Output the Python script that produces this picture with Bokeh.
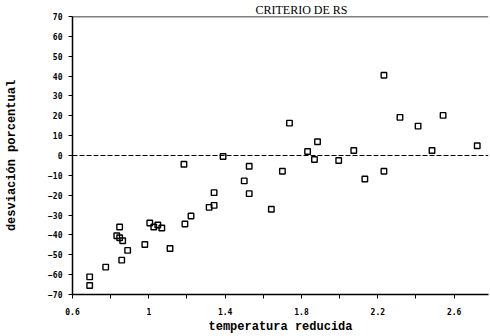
from bokeh.plotting import figure
from bokeh.models import FixedTicker, Span, Range1d
from bokeh.embed import file_html
from bokeh.resources import INLINE

# Data
temperatura_reducida = [0.69, 0.69, 0.774, 0.847, 0.832, 0.847, 0.863, 0.858, 0.889, 0.979,
                        1.005, 1.026, 1.047, 1.068, 1.111, 1.189, 1.221, 1.316, 1.342, 1.342,
                        1.526, 1.50, 1.526, 1.389, 1.642, 1.70, 1.737, 1.832, 1.868, 1.884,
                        1.995, 2.074, 2.132, 2.232, 2.232, 2.316, 2.411, 2.484, 2.542, 2.721,
                        1.184]
desviacion_porcentual = [-61.1, -65.5, -56.2, -36.0, -40.4, -41.4, -42.9, -52.7, -47.8, -44.8,
                         -34.0, -36.0, -35.0, -36.5, -46.8, -34.5, -30.5, -26.1, -25.1, -18.7,
                         -19.2, -12.8, -5.4, -0.5, -27.1, -7.9, 16.3, 2.0, -2.0, 6.9,
                         -2.5, 2.5, -11.8, -7.9, 40.4, 19.2, 14.8, 2.5, 20.2, 4.9,
                         -4.4]

x_major = [0.6, 1.0, 1.4, 1.8, 2.2, 2.6]
x_minor = [0.8, 1.2, 1.6, 2.0, 2.4]
x_labels = {0.6: "0.6", 1.0: "1", 1.4: "1.4", 1.8: "1.8", 2.2: "2.2", 2.6: "2.6"}
y_ticks = [-70, -60, -50, -40, -30, -20, -10, 0, 10, 20, 30, 40, 50, 60, 70]

p = figure(width=490, height=336, output_backend="svg", toolbar_location=None,
           x_range=Range1d(0.6, 2.78), y_range=Range1d(-70, 70),
           min_border_left=72, min_border_right=2, min_border_top=12, min_border_bottom=40)

p.title.text = "CRITERIO DE RS"
p.title.align = "left"
p.title.offset = 183
p.title.text_font = "Liberation Serif"
p.title.text_font_size = "12px"
p.title.text_font_style = "normal"
p.title.text_line_height = 0.6
p.title.standoff = 0
p.title.text_color = "black"

p.outline_line_color = None
p.xgrid.visible = False
p.ygrid.visible = False

p.scatter(temperatura_reducida, desviacion_porcentual, marker="square", size=5.5,
          fill_color=None, line_color="black", line_width=1.4)

p.add_layout(Span(location=70, dimension="width", line_color="black", line_width=1.5))
p.add_layout(Span(location=0, dimension="width", line_color="black", line_width=1,
                  line_dash="5 2"))

xa = p.xaxis[0]
xa.ticker = FixedTicker(ticks=x_major, minor_ticks=x_minor)
xa.major_label_overrides = x_labels
xa.axis_label = "temperatura reducida"
xa.axis_label_text_font = "Liberation Mono"
xa.axis_label_text_font_size = "12px"
xa.axis_label_text_font_style = "bold"
xa.axis_label_text_color = "black"
xa.axis_label_standoff = 2
xa.major_label_text_font = "DejaVu Sans Mono"
xa.major_label_text_font_size = "8px"
xa.major_label_text_font_style = "bold"
xa.major_label_text_color = "black"
xa.major_label_standoff = 9
xa.major_tick_out = 4
xa.major_tick_in = 0
xa.minor_tick_out = 4
xa.minor_tick_in = 0
xa.axis_line_width = 1.5
xa.axis_line_color = "black"
xa.major_tick_line_color = "black"
xa.minor_tick_line_color = "black"

ya = p.yaxis[0]
ya.ticker = FixedTicker(ticks=y_ticks)
ya.axis_label = "desviación porcentual"
ya.axis_label_text_font = "Liberation Mono"
ya.axis_label_text_font_size = "12px"
ya.axis_label_text_font_style = "bold"
ya.axis_label_text_color = "black"
ya.axis_label_standoff = 26
ya.major_label_text_font = "DejaVu Sans Mono"
ya.major_label_text_font_size = "8px"
ya.major_label_text_font_style = "bold"
ya.major_label_text_color = "black"
ya.major_label_standoff = 6
ya.major_tick_out = 4
ya.major_tick_in = 0
ya.minor_tick_out = 0
ya.minor_tick_in = 0
ya.axis_line_width = 1.5
ya.axis_line_color = "black"
ya.major_tick_line_color = "black"

open("out.html", "w").write(file_html(p, INLINE))
